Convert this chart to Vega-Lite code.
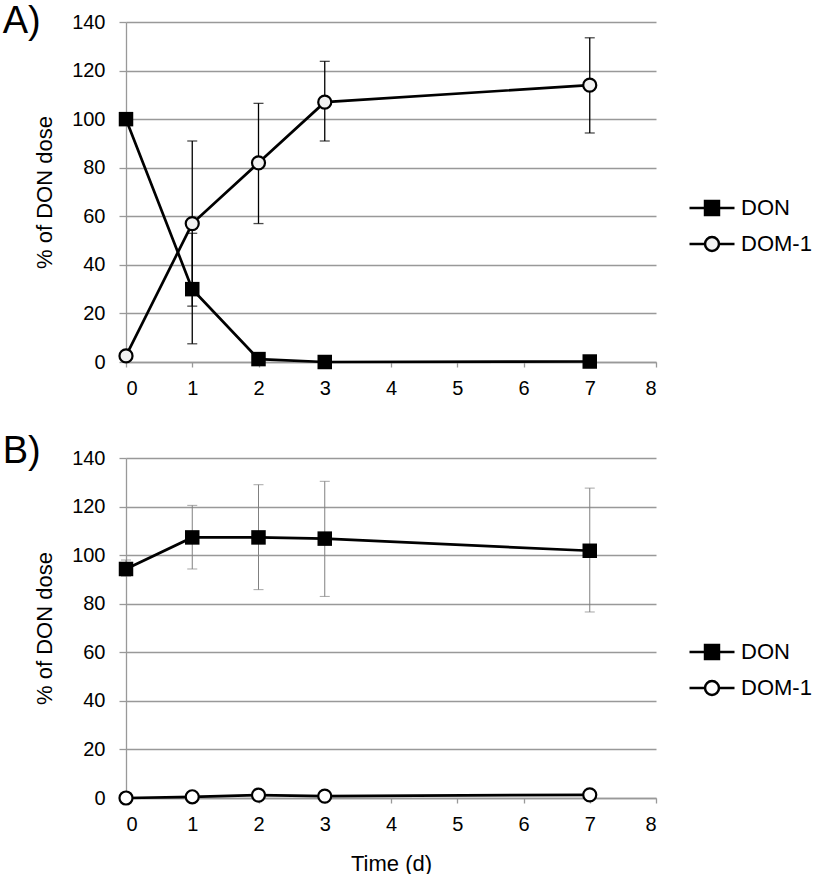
{
  "$schema": "https://vega.github.io/schema/vega-lite/v6.json",
  "padding": {"left": 2, "top": 3, "right": 0, "bottom": 0},
  "datasets": {
    "pts": [
      {"panel": "A", "series": "DON", "day": 0, "pct": 100, "lo": null, "hi": null},
      {"panel": "A", "series": "DON", "day": 1, "pct": 30, "lo": 7.5, "hi": 53},
      {"panel": "A", "series": "DON", "day": 2, "pct": 1.2, "lo": null, "hi": null},
      {"panel": "A", "series": "DON", "day": 3, "pct": 0, "lo": null, "hi": null},
      {"panel": "A", "series": "DON", "day": 7, "pct": 0.2, "lo": null, "hi": null},
      {"panel": "A", "series": "DOM-1", "day": 0, "pct": 2.5, "lo": null, "hi": null},
      {"panel": "A", "series": "DOM-1", "day": 1, "pct": 57, "lo": 23, "hi": 91},
      {"panel": "A", "series": "DOM-1", "day": 2, "pct": 82, "lo": 57, "hi": 106.5},
      {"panel": "A", "series": "DOM-1", "day": 3, "pct": 107, "lo": 91, "hi": 123.8},
      {"panel": "A", "series": "DOM-1", "day": 7, "pct": 114, "lo": 94.3, "hi": 133.5},
      {"panel": "B", "series": "DON", "day": 0, "pct": 94.3, "lo": 91.3, "hi": 98},
      {"panel": "B", "series": "DON", "day": 1, "pct": 107.3, "lo": 94.3, "hi": 120.5},
      {"panel": "B", "series": "DON", "day": 2, "pct": 107.3, "lo": 85.8, "hi": 129},
      {"panel": "B", "series": "DON", "day": 3, "pct": 106.8, "lo": 83, "hi": 130.4},
      {"panel": "B", "series": "DON", "day": 7, "pct": 101.8, "lo": 76.6, "hi": 127.6},
      {"panel": "B", "series": "DOM-1", "day": 0, "pct": 0, "lo": null, "hi": null},
      {"panel": "B", "series": "DOM-1", "day": 1, "pct": 0.5, "lo": null, "hi": null},
      {"panel": "B", "series": "DOM-1", "day": 2, "pct": 1.2, "lo": null, "hi": null},
      {"panel": "B", "series": "DOM-1", "day": 3, "pct": 0.8, "lo": null, "hi": null},
      {"panel": "B", "series": "DOM-1", "day": 7, "pct": 1.3, "lo": null, "hi": null}
    ]
  },
  "spacing": 35,
  "resolve": {
    "scale": {"shape": "independent", "fill": "independent", "stroke": "independent"},
    "legend": {"shape": "independent", "fill": "independent", "stroke": "independent"}
  },
  "vconcat": [
    {
      "title": {"text": "A)", "dx": -31, "offset": -29},
      "width": 530,
      "height": 340,
      "data": {"name": "pts"},
      "transform": [{"filter": "datum.panel == 'A'"}],
      "encoding": {
        "x": {"field": "day", "type": "quantitative", "scale": {"domain": [0, 8], "nice": false},
              "axis": {"values": [0, 1, 2, 3, 4, 5, 6, 7, 8], "title": null}},
        "y": {"field": "pct", "type": "quantitative", "scale": {"domain": [0, 140], "nice": false},
              "axis": {"values": [0, 20, 40, 60, 80, 100, 120, 140], "title": "% of DON dose"}}
      },
      "layer": [
        {
          "transform": [{"filter": "isValid(datum.lo)"}],
          "mark": {"type": "errorbar", "ticks": {"size": 10, "thickness": 1.3, "color": "black"}, "rule": {"strokeWidth": 1.3, "color": "black"}},
          "encoding": {"y": {"field": "lo", "type": "quantitative", "title": "% of DON dose"}, "y2": {"field": "hi"}}
        },
        {
          "mark": {"type": "line", "color": "black", "strokeWidth": 2.7},
          "encoding": {"detail": {"field": "series"}, "order": {"field": "day"}}
        },
        {
          "transform": [{"filter": "datum.series == 'DON'"}],
          "mark": {"type": "point", "shape": "square", "filled": true, "color": "black", "size": 210, "opacity": 1}
        },
        {
          "transform": [{"filter": "datum.series == 'DOM-1'"}],
          "mark": {"type": "point", "shape": "circle", "filled": true, "fill": "#f2f2f2", "stroke": "black", "strokeWidth": 2.2, "size": 170, "opacity": 1}
        },
        {
          "mark": {"type": "point", "filled": true, "strokeWidth": 2.5, "opacity": 0},
          "encoding": {
            "shape": {"field": "series", "type": "nominal",
              "scale": {"domain": ["DON", "DOM-1"], "range": ["M-1,0H1M-0.31,-0.31H0.31V0.31H-0.31Z", "M-1,0H-0.31M0.31,0H1M-0.31,0A0.31,0.31,0,1,0,0.31,0A0.31,0.31,0,1,0,-0.31,0Z"]},
              "legend": {"orient": "none", "legendX": 562, "legendY": 162}},
            "fill": {"field": "series", "type": "nominal",
              "scale": {"domain": ["DON", "DOM-1"], "range": ["black", "#f2f2f2"]},
              "legend": {"orient": "none", "legendX": 562, "legendY": 162}},
            "stroke": {"field": "series", "type": "nominal",
              "scale": {"domain": ["DON", "DOM-1"], "range": ["black", "black"]},
              "legend": {"orient": "none", "legendX": 562, "legendY": 162}}
          }
        }
      ]
    },
    {
      "title": {"text": "B)", "dx": -31, "offset": -23},
      "width": 530,
      "height": 340,
      "data": {"name": "pts"},
      "transform": [{"filter": "datum.panel == 'B'"}],
      "encoding": {
        "x": {"field": "day", "type": "quantitative", "scale": {"domain": [0, 8], "nice": false},
              "axis": {"values": [0, 1, 2, 3, 4, 5, 6, 7, 8], "title": "Time (d)"}},
        "y": {"field": "pct", "type": "quantitative", "scale": {"domain": [0, 140], "nice": false},
              "axis": {"values": [0, 20, 40, 60, 80, 100, 120, 140], "title": "% of DON dose"}}
      },
      "layer": [
        {
          "transform": [{"filter": "isValid(datum.lo)"}],
          "mark": {"type": "errorbar", "ticks": {"size": 10, "thickness": 1, "color": "#808080"}, "rule": {"strokeWidth": 1, "color": "#808080"}},
          "encoding": {"y": {"field": "lo", "type": "quantitative", "title": "% of DON dose"}, "y2": {"field": "hi"}}
        },
        {
          "mark": {"type": "line", "color": "black", "strokeWidth": 2.7},
          "encoding": {"detail": {"field": "series"}, "order": {"field": "day"}}
        },
        {
          "transform": [{"filter": "datum.series == 'DON'"}],
          "mark": {"type": "point", "shape": "square", "filled": true, "color": "black", "size": 210, "opacity": 1}
        },
        {
          "transform": [{"filter": "datum.series == 'DOM-1'"}],
          "mark": {"type": "point", "shape": "circle", "filled": true, "fill": "white", "stroke": "black", "strokeWidth": 2.2, "size": 170, "opacity": 1}
        },
        {
          "mark": {"type": "point", "filled": true, "strokeWidth": 2.5, "opacity": 0},
          "encoding": {
            "shape": {"field": "series", "type": "nominal",
              "scale": {"domain": ["DON", "DOM-1"], "range": ["M-1,0H1M-0.31,-0.31H0.31V0.31H-0.31Z", "M-1,0H-0.31M0.31,0H1M-0.31,0A0.31,0.31,0,1,0,0.31,0A0.31,0.31,0,1,0,-0.31,0Z"]},
              "legend": {"orient": "none", "legendX": 562, "legendY": 170}},
            "fill": {"field": "series", "type": "nominal",
              "scale": {"domain": ["DON", "DOM-1"], "range": ["black", "white"]},
              "legend": {"orient": "none", "legendX": 562, "legendY": 170}},
            "stroke": {"field": "series", "type": "nominal",
              "scale": {"domain": ["DON", "DOM-1"], "range": ["black", "black"]},
              "legend": {"orient": "none", "legendX": 562, "legendY": 170}}
          }
        }
      ]
    }
  ],
  "config": {
    "font": "Liberation Sans",
    "view": {"stroke": null},
    "title": {"fontSize": 38, "fontWeight": "normal", "color": "black", "anchor": "start", "frame": "bounds", "baseline": "alphabetic"},
    "axis": {
      "labelFontSize": 20, "labelColor": "black", "titleFontSize": 22, "titleFontWeight": "normal", "titleColor": "black",
      "domainColor": "#999999", "tickColor": "#999999", "gridColor": "#999999", "domainWidth": 1.3, "tickWidth": 1.3, "gridWidth": 1.3
    },
    "axisX": {"grid": false, "tickSize": 5, "labelPadding": 11, "titlePadding": 19},
    "axisY": {"tickSize": 7, "labelPadding": 14, "titlePadding": 15},
    "legend": {
      "title": null, "symbolSize": 2025, "symbolStrokeColor": "black", "symbolStrokeWidth": 2.5, "symbolOpacity": 1,
      "labelFontSize": 22, "labelColor": "black", "labelOffset": 5, "rowPadding": -5, "padding": 0
    }
  }
}
